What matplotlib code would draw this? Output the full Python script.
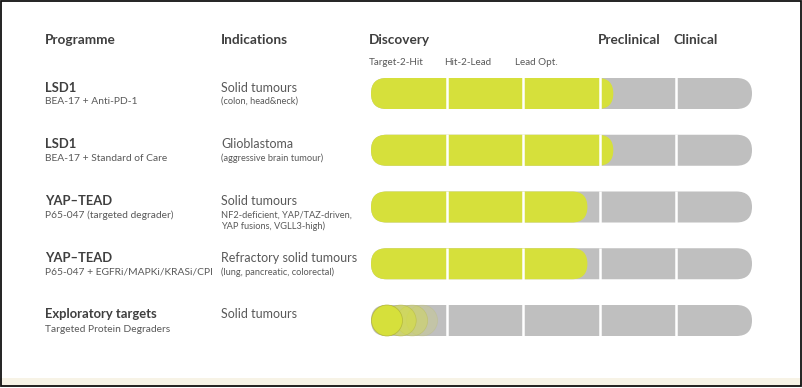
import matplotlib as mpl
mpl.use('Agg')
import matplotlib.pyplot as plt
from matplotlib.patches import Rectangle, Ellipse, FancyBboxPatch

plt.rcParams['font.family'] = ['Lato', 'DejaVu Sans']

# --- data ---
stages = ['Discovery', 'Preclinical', 'Clinical']
substages = ['Target-2-Hit', 'Hit-2-Lead', 'Lead Opt.']
programmes = ['LSD1', 'LSD1', 'YAP\u2013TEAD', 'YAP\u2013TEAD', 'Exploratory targets']
programme_sub = ['BEA-17 + Anti-PD-1', 'BEA-17 + Standard of Care',
                 'P65-047 (targeted degrader)', 'P65-047 + EGFRi/MAPKi/KRASi/CPI',
                 'Targeted Protein Degraders']
indications = ['Solid tumours', 'Glioblastoma', 'Solid tumours',
               'Refractory solid tumours', 'Solid tumours']
indication_sub = ['(colon, head&neck)', '(aggressive brain tumour)',
                  'NF2-deficient, YAP/TAZ-driven,\nYAP fusions, VGLL3-high)',
                  '(lung, pancreatic, colorectal)', '']
progress = [3.18, 3.18, 2.84, 2.84, None]   # in stage units (5 segments)
# exploratory row: fading dots (position, opacity)
dots_pos = [0.21, 0.39, 0.54, 0.67]
dots_alpha = [1.0, 0.55, 0.35, 0.18]
n_seg = 5

YELLOW = '#d6e03b'
GRAY = '#bfbfbf'
DARK = '#3f3f3f'
MID = '#595959'

W, H = 803, 388
fig = plt.figure(figsize=(W / 100, H / 100), dpi=100)
bg = fig.add_axes([0, 0, 1, 1])
bg.set_xlim(0, W)
bg.set_ylim(H, 0)
bg.axis('off')

# frame and bottom strip
bg.add_patch(Rectangle((0, 378), W, 9, color='#f7f3e6', lw=0))
bg.add_patch(Rectangle((0.8, 0.8), W - 2.6, H - 2.6, fill=False, ec='#111111', lw=1.3))

# headers
hdr = dict(fontsize=9.8, fontweight='bold', color=DARK, va='center')
bg.text(45, 40, 'Programme', **hdr)
bg.text(221, 40, 'Indications', **hdr)
bg.text(369, 40, stages[0], **hdr)
bg.text(598, 40, stages[1], **hdr)
bg.text(674, 40, stages[2], **hdr)
for x, s in zip([369, 444, 515], substages):
    bg.text(x, 62.5, s, fontsize=7.1, color=MID, va='center')

# bar axes: x in stage units, y in rows
x0, x1 = 371, 752
row_h = 56.75
y_top = 93.5 - row_h / 2
y_bot = y_top + row_h * 5
ax = fig.add_axes([x0 / W, 1 - y_bot / H, (x1 - x0) / W, (y_bot - y_top) / H])
ax.set_xlim(0, n_seg)
ax.set_ylim(4.5, -0.5)
ax.axis('off')

seg_px = (x1 - x0) / n_seg
bar_h = 31 / row_h
cap_w = 31 / seg_px
aspect = (1 / row_h) / (1 / seg_px)


def capsule(a, b, y, color, z=1):
    ax.add_patch(FancyBboxPatch((a, y - bar_h / 2), b - a, bar_h,
                                boxstyle='round,pad=0,rounding_size=%f' % (cap_w / 2),
                                mutation_aspect=aspect, fc=color, ec='none', lw=0, zorder=z))


for i in range(len(programmes)):
    capsule(0, n_seg, i, GRAY, z=1)
    if progress[i] is not None:
        capsule(0, progress[i], i, YELLOW, z=2)
    else:
        for p, a in reversed(list(zip(dots_pos, dots_alpha))):
            ax.add_patch(Ellipse((p, i), cap_w, bar_h, fc=YELLOW, ec='#b4b83a',
                                 lw=0.5, alpha=a, zorder=2))
    for s in range(1, n_seg):
        ax.plot([s, s], [i - bar_h / 2 - 0.01, i + bar_h / 2 + 0.01], color='white', lw=1.8,
                solid_capstyle='butt', zorder=3)

    yc = 93.5 + row_h * i
    bg.text(45, yc - 6, programmes[i], fontsize=9.4, fontweight='bold', color=DARK, va='center')
    bg.text(45, yc + 8.5, programme_sub[i], fontsize=7.4, color=MID, va='center')
    bg.text(221, yc - 6, indications[i], fontsize=9, color=MID, va='center')
    if indication_sub[i]:
        bg.text(221, yc + 3.5, indication_sub[i], fontsize=6.7, color=MID, va='top',
                linespacing=1.3)

fig.savefig('out.png', dpi=100, facecolor='white')
